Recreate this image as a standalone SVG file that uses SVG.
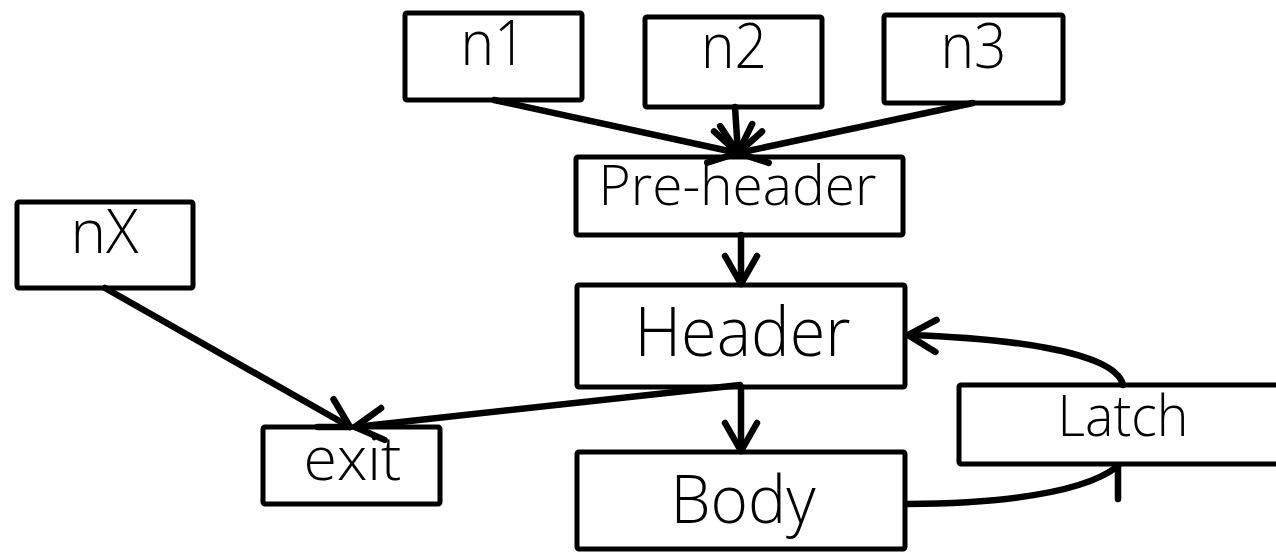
<svg xmlns="http://www.w3.org/2000/svg" width="1276" height="554" viewBox="0 0 1276 554">
  <style>
    .box { fill: #ffffff; stroke: #000000; stroke-width: 5; stroke-linejoin: round; }
    .lbl { font-family: "Open Sans", "Noto Sans", "Liberation Sans", sans-serif; font-weight: 300; fill: #000000; text-anchor: middle; }
    .edge { fill: none; stroke: #000000; stroke-width: 6.5; stroke-linecap: round; stroke-linejoin: round; }
  </style>
  <defs>
    <marker id="vhead" markerUnits="userSpaceOnUse" markerWidth="60" markerHeight="60" viewBox="-40 -30 60 60" refX="0" refY="0" orient="auto" overflow="visible">
      <path d="M-28,-16 L0,0 L-28,16" fill="none" stroke="#000000" stroke-width="6.5" stroke-linecap="round" stroke-linejoin="round"/>
    </marker>
  </defs>

  <!-- blocks of the loop -->
  <g id="n1">
    <rect class="box" x="405" y="13" width="177" height="87" rx="2"/>
    <text class="lbl" x="493.5" y="65" font-size="63" textLength="66" lengthAdjust="spacingAndGlyphs">n1</text>
  </g>
  <g id="n2">
    <rect class="box" x="645" y="17" width="177" height="90" rx="2"/>
    <text class="lbl" x="734" y="68" font-size="63" textLength="66" lengthAdjust="spacingAndGlyphs">n2</text>
  </g>
  <g id="n3">
    <rect class="box" x="884" y="15" width="179" height="88" rx="2"/>
    <text class="lbl" x="973.5" y="68" font-size="63" textLength="66" lengthAdjust="spacingAndGlyphs">n3</text>
  </g>
  <g id="preheader">
    <rect class="box" x="576" y="157" width="327" height="78" rx="2"/>
    <text class="lbl" x="737.5" y="205" font-size="56" textLength="278" lengthAdjust="spacingAndGlyphs">Pre-header</text>
  </g>
  <g id="header">
    <rect class="box" x="577" y="285" width="328" height="102" rx="2"/>
    <text class="lbl" x="742.5" y="356" font-size="68" textLength="216" lengthAdjust="spacingAndGlyphs">Header</text>
  </g>
  <g id="body">
    <rect class="box" x="577" y="452" width="328" height="97" rx="2"/>
    <text class="lbl" x="743" y="523" font-size="66" textLength="145" lengthAdjust="spacingAndGlyphs">Body</text>
  </g>
  <g id="latch">
    <rect class="box" x="959" y="385" width="331" height="79" rx="2"/>
    <text class="lbl" x="1123" y="436" font-size="57" textLength="131" lengthAdjust="spacingAndGlyphs">Latch</text>
  </g>
  <g id="nX">
    <rect class="box" x="17" y="202" width="176" height="86" rx="2"/>
    <text class="lbl" x="104.5" y="253" font-size="60" textLength="68" lengthAdjust="spacingAndGlyphs">nX</text>
  </g>
  <g id="exit">
    <rect class="box" x="263" y="427" width="177" height="77" rx="2"/>
    <text class="lbl" x="352.5" y="480" font-size="60" textLength="98" lengthAdjust="spacingAndGlyphs">exit</text>
  </g>

  <!-- control-flow edges -->
  <g id="connectors">
    <path class="edge" d="M494,100 L738,153" marker-end="url(#vhead)"/>
    <path class="edge" d="M735,107 L738,153" marker-end="url(#vhead)"/>
    <path class="edge" d="M973,103 L738,153" marker-end="url(#vhead)"/>
    <path class="edge" d="M741,235 L741,284" marker-end="url(#vhead)"/>
    <path class="edge" d="M741,387 L741,451" marker-end="url(#vhead)"/>
    <path class="edge" d="M740,385 L355,427" marker-end="url(#vhead)"/>
    <path class="edge" d="M105,288 L350,427" marker-end="url(#vhead)"/>
    <path class="edge" d="M1123,385 C1115,350 1000,338 908,335" marker-end="url(#vhead)"/>
    <path class="edge" d="M907,504 C1010,503 1085,492 1118,466"/>
    <path class="edge" d="M1118,466 L1118,499"/>
  </g>
</svg>
